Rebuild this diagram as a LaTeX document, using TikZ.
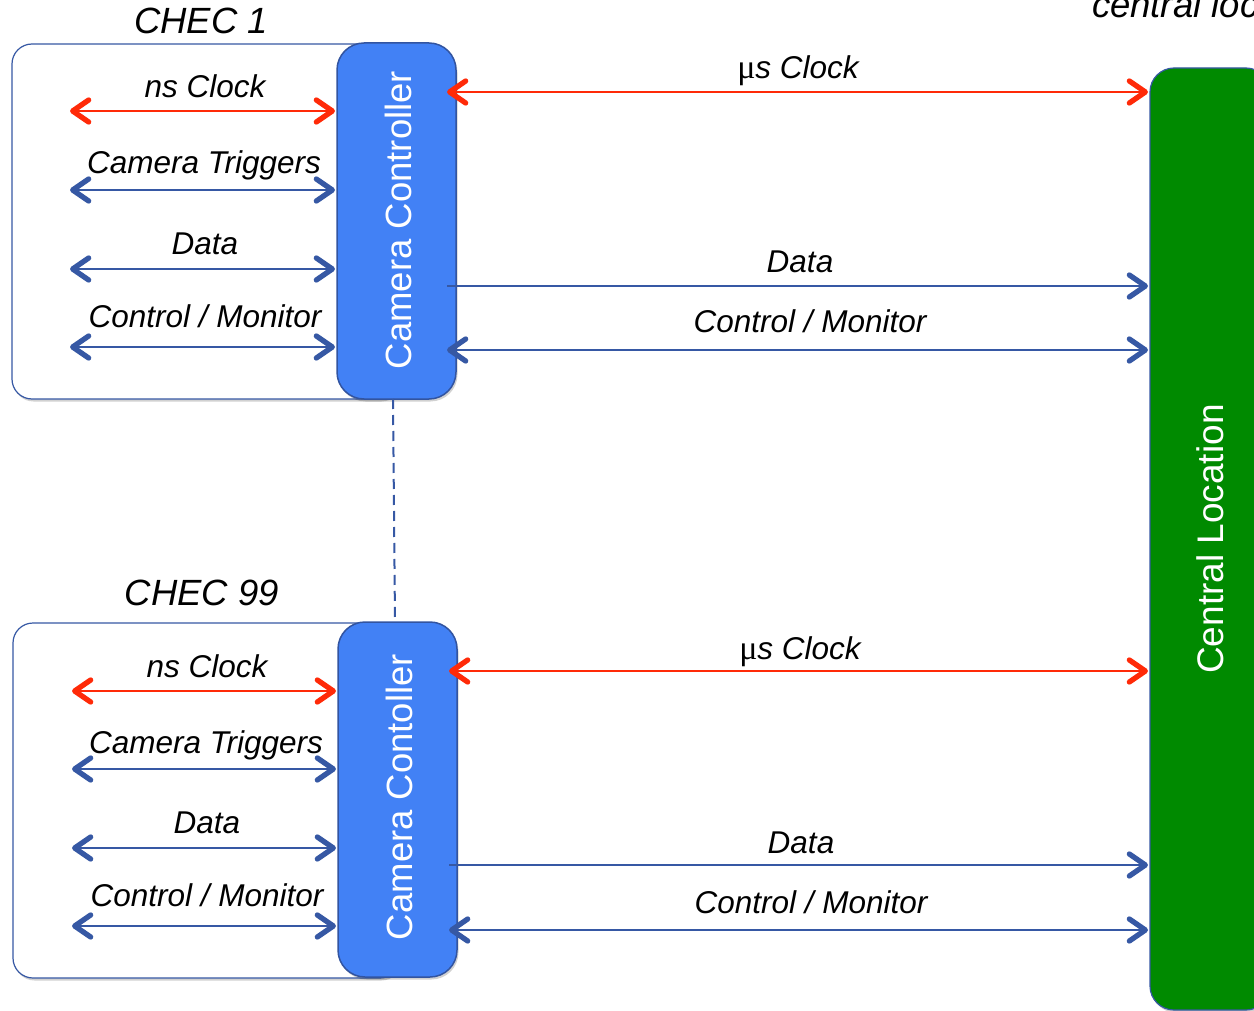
\documentclass[tikz,border=0pt]{standalone}
\usepackage{fontspec}
\setmainfont{Liberation Sans}
\newfontfamily\mufont{Liberation Serif}
\usetikzlibrary{arrows.meta,shadows}

\definecolor{linkred}{RGB}{255,42,8}
\definecolor{linkblue}{RGB}{54,88,164}
\definecolor{ctrlfill}{RGB}{66,129,245}
\definecolor{ctrledge}{RGB}{50,84,160}
\definecolor{sitegreen}{RGB}{0,138,0}

\newcommand{\muclock}{{\mufont\upshape\fontsize{34}{36}\selectfont μ}s Clock}

\begin{document}
\begin{tikzpicture}[x=1pt,y=-1pt,
  every node/.style={inner sep=0pt, outer sep=0pt},
  lab/.style={anchor=base, font=\fontsize{31.5}{36}\selectfont\itshape},
  title/.style={anchor=base, font=\fontsize{36.5}{42}\selectfont\itshape},
  softshadow/.style={drop shadow={shadow xshift=1.5pt, shadow yshift=-2.5pt, opacity=0.18, fill=black}},
  camerabox/.style={draw=linkblue, line width=1.2pt, fill=white, rounded corners=20pt, softshadow},
  ctrlbox/.style={draw=ctrledge, line width=1.5pt, fill=ctrlfill, rounded corners=27pt,
    minimum width=119pt, softshadow},
  sitebox/.style={draw=linkblue, line width=1.2pt, fill=sitegreen, rounded corners=24pt,
    minimum width=120pt, minimum height=942pt, softshadow},
  vtext/.style={rotate=90, text=white, font=\fontsize{36.5}{42}\selectfont},
  chev/.tip={Straight Barb[length=16pt, width=22pt, line width=2.6pt 1, round]},
  redlink/.style={draw=linkred, line width=2.7pt},
  bluelink/.style={draw=linkblue, line width=2.7pt},
  twoway/.style={arrows={chev-chev}},
  oneway/.style={arrows={-chev}},
  dashlink/.style={draw=linkblue, line width=2pt, dash pattern=on 10pt off 6pt},
]
\useasboundingbox (0,0) rectangle (1254,1011);
\clip (0,0) rectangle (1254,1011);

% ---------- camera housings ----------
\node[camerabox, minimum width=388pt, minimum height=355pt] (chec1) at (206,221.5) {};
\node[camerabox, minimum width=387pt, minimum height=355pt] (chec99) at (206.5,800.5) {};
\node[title] (t1) at (201,34) {CHEC 1};
\node[title] (t99) at (202,605) {CHEC 99};

% ---------- central location ----------
\node[sitebox] (cl) at (1210,539) {};
\node[vtext, font=\fontsize{37}{42}\selectfont] (cltext) at (cl.center) {Central Location};
\node[title, anchor=base west] (cltitle) at (1092,18) {central location};

% ---------- camera controllers ----------
\node[ctrlbox, minimum height=356pt] (cc1) at (396.5,221) {};
\node[vtext] (cc1text) at (398,220) {Camera Controller};
\node[ctrlbox, minimum height=355pt] (cc99) at (397.5,799.5) {};
\node[vtext] (cc99text) at (399,797) {Camera Contoller};

\draw[dashlink] ([xshift=-3.5pt]cc1.south) -- ([xshift=-2.5pt]cc99.north);

% ---------- links inside CHEC 1 ----------
\coordinate (a1) at (70,111);
\coordinate (a2) at (70,190);
\coordinate (a3) at (70,269);
\coordinate (a4) at (70,347);
\draw[redlink, twoway, shorten >=2pt] (a1) -- (a1 -| cc1.west);
\draw[bluelink, twoway, shorten >=2pt] (a2) -- (a2 -| cc1.west);
\draw[bluelink, twoway, shorten >=2pt] (a3) -- (a3 -| cc1.west);
\draw[bluelink, twoway, shorten >=2pt] (a4) -- (a4 -| cc1.west);
\node[lab] (la1) at (205,98) {ns Clock};
\node[lab] (la2) at (204,174) {Camera Triggers};
\node[lab] (la3) at (205,255) {Data};
\node[lab] (la4) at (205,327) {Control / Monitor};

% ---------- links inside CHEC 99 ----------
\coordinate (b1) at (72,691);
\coordinate (b2) at (72,769);
\coordinate (b3) at (72,848);
\coordinate (b4) at (72,926);
\draw[redlink, twoway, shorten >=2pt] (b1) -- (b1 -| cc99.west);
\draw[bluelink, twoway, shorten >=2pt] (b2) -- (b2 -| cc99.west);
\draw[bluelink, twoway, shorten >=2pt] (b3) -- (b3 -| cc99.west);
\draw[bluelink, twoway, shorten >=2pt] (b4) -- (b4 -| cc99.west);
\node[lab] (lb1) at (207,677) {ns Clock};
\node[lab] (lb2) at (206,753) {Camera Triggers};
\node[lab] (lb3) at (207,833) {Data};
\node[lab] (lb4) at (207,906) {Control / Monitor};

% ---------- links to the central location ----------
\coordinate (r1) at (447,92);
\coordinate (r2) at (447,286);
\coordinate (r3) at (447,350);
\draw[redlink, twoway, shorten >=2pt] (r1) -- (r1 -| cl.west);
\draw[bluelink, oneway, shorten >=2pt] (r2) -- (r2 -| cl.west);
\draw[bluelink, twoway, shorten >=2pt] (r3) -- (r3 -| cl.west);
\node[lab] (lr1) at (798,79) {\muclock};
\node[lab] (lr2) at (800,273) {Data};
\node[lab] (lr3) at (810,333) {Control / Monitor};

\coordinate (s1) at (449,671);
\coordinate (s2) at (449,865);
\coordinate (s3) at (449,930);
\draw[redlink, twoway, shorten >=2pt] (s1) -- (s1 -| cl.west);
\draw[bluelink, oneway, shorten >=2pt] (s2) -- (s2 -| cl.west);
\draw[bluelink, twoway, shorten >=2pt] (s3) -- (s3 -| cl.west);
\node[lab] (ls1) at (800,659) {\muclock};
\node[lab] (ls2) at (801,853) {Data};
\node[lab] (ls3) at (811,913) {Control / Monitor};
\end{tikzpicture}
\end{document}
